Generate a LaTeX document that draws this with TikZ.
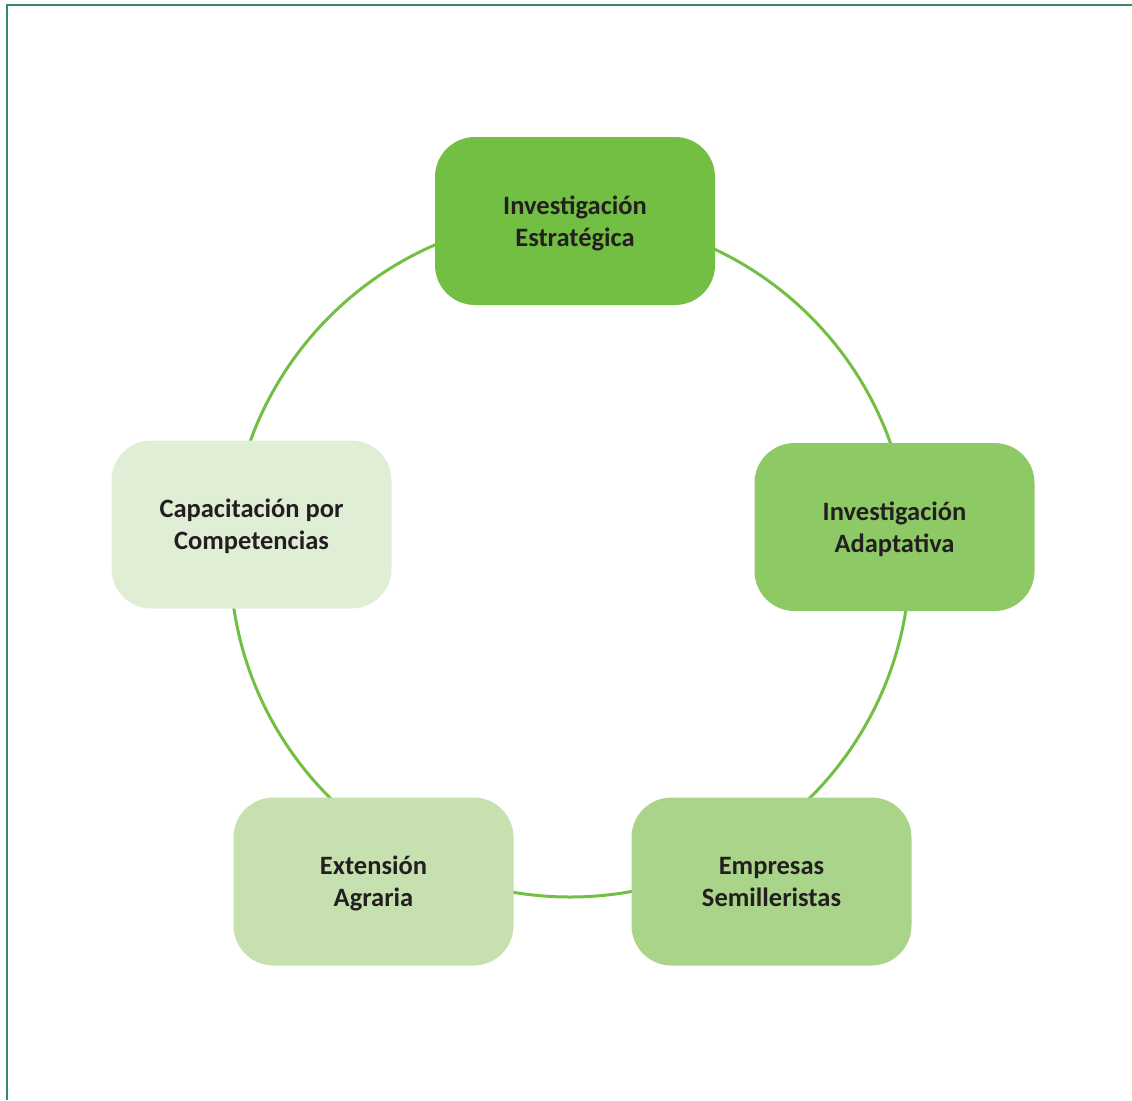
\documentclass[tikz,border=0pt]{standalone}
\usepackage{fontspec}
\setmainfont{Carlito}
\usepackage{tikz}

\definecolor{framegreen}{HTML}{3A8A6A}
\definecolor{ringgreen}{HTML}{72BF44}
\definecolor{greenA}{HTML}{72BF44}
\definecolor{greenB}{HTML}{8DC965}
\definecolor{greenC}{HTML}{AAD48A}
\definecolor{greenD}{HTML}{C6E0AF}
\definecolor{greenE}{HTML}{E1EED6}
\definecolor{textdark}{HTML}{231F20}

\begin{document}
\begin{tikzpicture}[x=1pt, y=-1pt,
    box/.style={rounded corners=40pt, minimum width=280pt, minimum height=168pt,
                align=center, text=textdark, text depth=-4pt,
                font=\bfseries\fontsize{26.5}{32}\selectfont}]
            \useasboundingbox (0,0) rectangle (1132,1100);

            % frame
            \draw[framegreen, line width=1.5pt] (7,1100) -- (7,5) -- (1132,5);

            % ring behind the boxes
            \draw[ringgreen, line width=3pt] (570,557) circle (340pt);

            \node[box, fill=greenA] (strat) at (575,221) {Investigación\\Estratégica};
            \node[box, fill=greenB] (adapt) at (894.5,527) {Investigación\\Adaptativa};
            \node[box, fill=greenC] (seed) at (771.5,881.5) {Empresas\\Semilleristas};
            \node[box, fill=greenD] (ext) at (373.5,881.5) {Extensión\\Agraria};
            \node[box, fill=greenE] (train) at (251.5,524.5) {Capacitación por\\Competencias};
        \end{tikzpicture}
\end{document}
